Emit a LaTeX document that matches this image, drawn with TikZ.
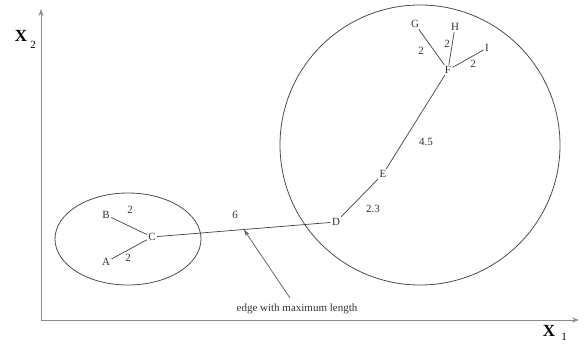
\documentclass[tikz,border=0pt]{standalone}
\usepackage{fontspec}
\setmainfont{Liberation Serif}
\usetikzlibrary{arrows.meta}
\begin{document}
\begin{tikzpicture}[x=1pt,y=-1pt,
  vtx/.style={inner sep=1.4pt, font=\fontsize{11}{13}\selectfont, text=black!80},
  wlbl/.style={inner sep=0pt, font=\fontsize{11}{13}\selectfont, text=black!80},
  edg/.style={draw=black!75, line width=0.7pt},
  axis/.style={draw=black!45, line width=1pt, -{Stealth[length=7pt,width=5pt]}},
  outline/.style={draw=black!70, line width=0.8pt}]
\useasboundingbox (0,0) rectangle (585,344);
% axes
\coordinate (O) at (41,320);
\coordinate (Ytip) at (41,9);
\coordinate (Xtip) at (579,320);
\draw[axis] (O) -- (Ytip);
\draw[axis] (O) -- (Xtip);
\node[inner sep=0pt, font=\fontsize{17}{19}\selectfont\bfseries] (X2) at (21,36) {X};
\node[inner sep=0pt, font=\fontsize{11}{13}\selectfont] (X2s) at (33,45) {2};
\node[inner sep=0pt, font=\fontsize{17}{19}\selectfont\bfseries] (X1) at (549,331) {X};
\node[inner sep=0pt, font=\fontsize{11}{13}\selectfont] (X1s) at (564,337) {1};
% clusters
\draw[outline] (128,239) ellipse [x radius=73pt, y radius=46pt];
\draw[outline] (420,145) circle [radius=140pt];
% vertices
\node[vtx] (A) at (106,262) {A};
\node[vtx] (B) at (106,215) {B};
\node[vtx] (C) at (152,237) {C};
\node[vtx] (D) at (336,222) {D};
\node[vtx] (E) at (383,174) {E};
\node[vtx] (F) at (448,70) {F};
\node[vtx] (G) at (415,24) {G};
\node[vtx] (H) at (455,27) {H};
\node[vtx] (I) at (487,48) {I};
% edges
\draw[edg] (B) -- (C);
\draw[edg] (A) -- (C);
\draw[edg] (C) -- coordinate[pos=0.5] (M) (D);
\draw[edg] (D) -- (E);
\draw[edg] (E) -- (F);
\draw[edg] (F) -- (G);
\draw[edg] (F) -- (H);
\draw[edg] (F) -- (I);
% weights
\node[wlbl] (wBC) at (130,210) {2};
\node[wlbl] (wAC) at (128,258) {2};
\node[wlbl] (wCD) at (235,215) {6};
\node[wlbl] (wDE) at (373,209) {2.3};
\node[wlbl] (wEF) at (426,142) {4.5};
\node[wlbl] (wFG) at (421,51) {2};
\node[wlbl] (wFH) at (447,44) {2};
\node[wlbl] (wFI) at (473,64) {2};
% annotation
\node[wlbl] (note) at (297,309) {edge with maximum length};
\coordinate (S) at (290,298);
\draw[draw=black!65, line width=0.7pt, -{Stealth[length=7pt,width=4pt]}] (S) -- (M);
\end{tikzpicture}
\end{document}
